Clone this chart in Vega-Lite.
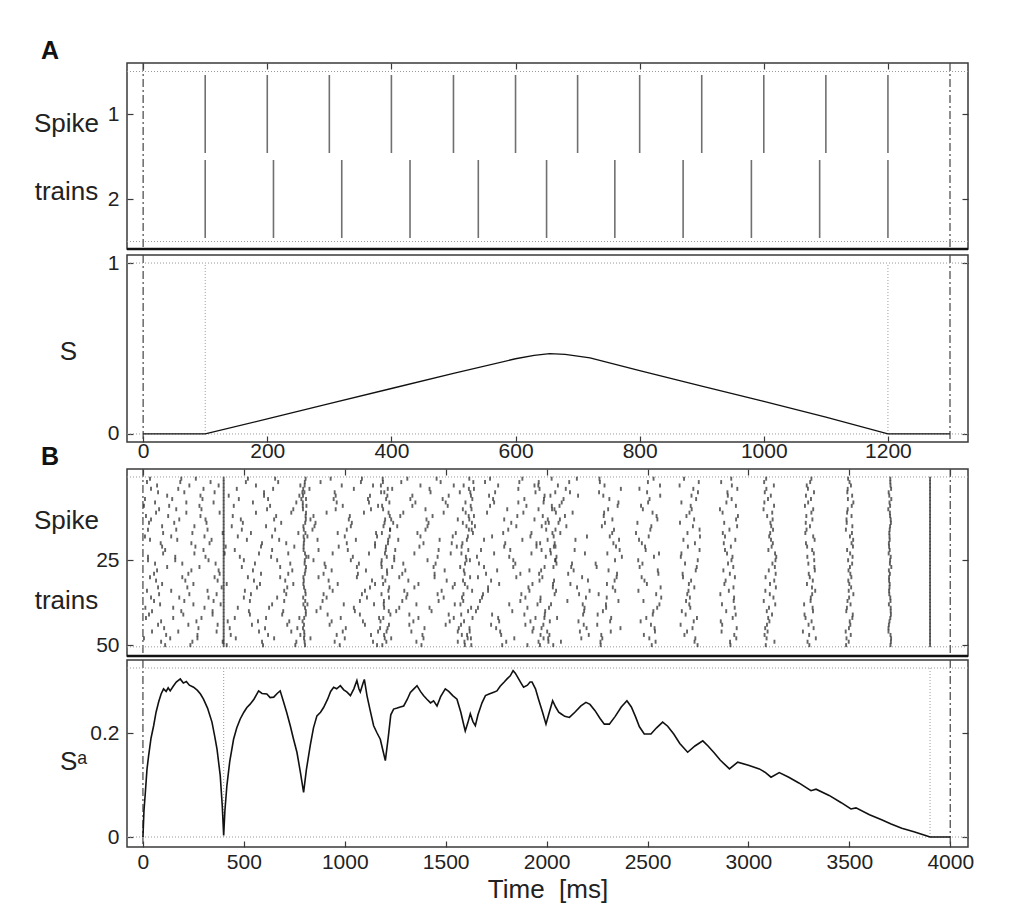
{
"$schema":"https://vega.github.io/schema/vega-lite/v6.json",
"background":"white",
"padding":{"left":32,"top":38,"right":5,"bottom":5},
"config":{
 "font":"Liberation Sans",
 "view":{"stroke":"#3a3a3a","strokeWidth":1.5},
 "axis":{"domain":false,"grid":false,"tickColor":"#3a3a3a","tickWidth":1.2,"tickSize":-6,"labelFontSize":21,"labelColor":"#222","labelFont":"Liberation Sans","titleFont":"Liberation Sans","titleFontSize":26,"titleFontWeight":"normal","titleColor":"#222"},
 "title":{"font":"Liberation Sans","fontSize":25,"fontWeight":"bold","anchor":"start","frame":"group","orient":"top","baseline":"alphabetic","offset":0,"dx":-86,"dy":6,"color":"#111"}
},
"spacing":-18,
"vconcat":[
{"spacing":0,"vconcat":[
 {"width":841,"height":186,"title":"A",
  "resolve":{"axis":{"x":"independent","y":"independent"}},
  "layer":[
   {"data":{"values":[{"t":0},{"t":1300}]},
    "mark":{"type":"rule","strokeDash":[8,3,2,3],"color":"#444","strokeWidth":1.2},
    "encoding":{"x":{"field":"t","type":"quantitative","scale":{"domain":[-26,1329],"nice":false,"zero":false},"axis":{"orient":"top","values":[0,200,400,600,800,1000,1200],"labels":false,"title":null}}}},
   {"data":{"values":[{"r":0.5},{"r":2.5}]},
    "mark":{"type":"rule","strokeDash":[1,2],"color":"#999","strokeWidth":1},
    "encoding":{"y":{"field":"r","type":"quantitative","scale":{"domain":[0.4,2.588],"reverse":true,"nice":false,"zero":false},"axis":{"orient":"right","values":[1,2],"labels":false,"title":null}}}},
   {"data":{"values":[{"r":2.588}]},
    "mark":{"type":"rule","color":"#111","strokeWidth":2.5},
    "encoding":{"y":{"field":"r","type":"quantitative","scale":{"domain":[0.4,2.588],"reverse":true,"nice":false,"zero":false},"axis":null}}},
   {"data":{"values":[
     {"n":1,"t":[100,200,300,400,500,600,700,800,900,1000,1100,1200]},
     {"n":2,"t":[100,210,320,430,540,650,760,870,980,1090,1200]}]},
    "transform":[{"flatten":["t"]}],
    "mark":{"type":"tick","orient":"vertical","size":78,"thickness":1.6,"color":"#333"},
    "encoding":{
     "x":{"field":"t","type":"quantitative","scale":{"domain":[-26,1329],"nice":false,"zero":false},"axis":null},
     "y":{"field":"n","type":"quantitative","scale":{"domain":[0.4,2.588],"reverse":true,"nice":false,"zero":false},
          "axis":{"orient":"left","values":[1,2],"format":"d","labelPadding":14,"title":["Spike","trains"],"titleAngle":0,"titleAlign":"center","titleBaseline":"middle","titleX":-61,"titleY":60,"titleLineHeight":68}}}}
  ]},
 {"width":841,"height":187,
  "resolve":{"axis":{"x":"independent","y":"independent"}},
  "layer":[
   {"data":{"values":[{"t":0},{"t":1300}]},
    "mark":{"type":"rule","strokeDash":[8,3,2,3],"color":"#444","strokeWidth":1.2},
    "encoding":{"x":{"field":"t","type":"quantitative","scale":{"domain":[-26,1329],"nice":false,"zero":false},"axis":{"orient":"bottom","values":[0,200,400,600,800,1000,1200],"format":"d","labelPadding":4,"title":null}}}},
   {"data":{"values":[{"r":0},{"r":1}]},
    "mark":{"type":"rule","strokeDash":[1,2],"color":"#999","strokeWidth":1},
    "encoding":{"y":{"field":"r","type":"quantitative","scale":{"domain":[-0.047,1.047],"nice":false,"zero":false},"axis":{"orient":"right","values":[0,1],"labels":false,"title":null}}}},
   {"data":{"values":[{"t":100,"a":0,"b":1},{"t":1200,"a":0,"b":1}]},
    "mark":{"type":"rule","strokeDash":[1,2],"color":"#999","strokeWidth":1},
    "encoding":{"x":{"field":"t","type":"quantitative","scale":{"domain":[-26,1329],"nice":false,"zero":false},"axis":null},
                "y":{"field":"a","type":"quantitative","scale":{"domain":[-0.047,1.047],"nice":false,"zero":false},"axis":null},
                "y2":{"field":"b"}}},
   {"data":{"values":[{"t":0,"s":0},{"t":100,"s":0},{"t":200,"s":0.088},{"t":300,"s":0.177},{"t":400,"s":0.266},{"t":500,"s":0.355},{"t":600,"s":0.44},{"t":630,"s":0.46},{"t":655,"s":0.47},{"t":680,"s":0.466},{"t":720,"s":0.445},{"t":800,"s":0.37},{"t":900,"s":0.28},{"t":1000,"s":0.19},{"t":1100,"s":0.098},{"t":1200,"s":0},{"t":1300,"s":0}]},
    "mark":{"type":"line","color":"#111","strokeWidth":1.3},
    "encoding":{
     "x":{"field":"t","type":"quantitative","scale":{"domain":[-26,1329],"nice":false,"zero":false},"axis":null},
     "y":{"field":"s","type":"quantitative","scale":{"domain":[-0.047,1.047],"nice":false,"zero":false},
          "axis":{"orient":"left","values":[0,1],"format":"d","labelPadding":14,"title":"S","titleAngle":0,"titleAlign":"center","titleBaseline":"middle","titleX":-59,"titleY":96}}}}
  ]}
]},
{"spacing":0,"vconcat":[
 {"width":841,"height":187,"title":"B",
  "resolve":{"axis":{"x":"independent","y":"independent"}},
  "layer":[
   {"data":{"values":[{"t":0},{"t":4000}]},
    "mark":{"type":"rule","strokeDash":[8,3,2,3],"color":"#444","strokeWidth":1.2},
    "encoding":{"x":{"field":"t","type":"quantitative","scale":{"domain":[-79,4088],"nice":false,"zero":false},"axis":{"orient":"top","values":[0,500,1000,1500,2000,2500,3000,3500,4000],"labels":false,"title":null}}}},
   {"data":{"values":[{"r":0.5},{"r":50.5}]},
    "mark":{"type":"rule","strokeDash":[1,2],"color":"#999","strokeWidth":1},
    "encoding":{"y":{"field":"r","type":"quantitative","scale":{"domain":[-1.85,53.2],"reverse":true,"nice":false,"zero":false},"axis":{"orient":"right","values":[25,50],"labels":false,"title":null}}}},
   {"data":{"values":[{"r":53.2}]},
    "mark":{"type":"rule","color":"#111","strokeWidth":2.5},
    "encoding":{"y":{"field":"r","type":"quantitative","scale":{"domain":[-1.85,53.2],"reverse":true,"nice":false,"zero":false},"axis":null}}},
   {"data":{"values":[
{"n":1,"t":[35,190,262,520,655,930,1085,1310,1455,1720,1880,400,806,1188,1617,2025,2150,2262,2530,2681,2915,3088,3312,3494,3703,3900]},
{"n":20,"t":[88,240,330,590,710,1010,1150,1390,1530,1795,1950,400,797,1214,1583,1968,2040,2331,2472,2735,2878,3121,3285,3511,3696,3900]},
{"n":39,"t":[12,150,305,470,625,880,1045,1270,1420,1660,1905,400,803,1195,1626,2012,2188,2295,2548,2712,2932,3102,3318,3488,3705,3900]},
{"n":8,"t":[60,215,350,545,760,960,1120,1350,1500,1740,1860,400,792,1221,1598,1985,2075,2356,2503,2668,2891,3079,3296,3520,3699,3900]},
{"n":27,"t":[120,280,490,680,905,1060,1235,1440,1690,1835,1990,400,808,1183,1572,2034,2122,2248,2461,2744,2925,3131,3327,3503,3708,3900]},
{"n":46,"t":[45,175,365,575,735,990,1165,1330,1560,1770,1930,400,799,1207,1619,2003,2165,2318,2537,2696,2867,3095,3270,3482,3694,3900]},
{"n":15,"t":[95,255,440,610,850,1030,1260,1410,1645,1850,400,795,1192,1603,1976,2098,2274,2519,2725,2944,3113,3305,3515,3702,3900]},
{"n":34,"t":[20,140,320,505,700,940,1100,1295,1480,1710,1915,400,804,1216,1631,2047,2213,2340,2455,2703,2903,3084,3331,3497,3697,3900]},
{"n":3,"t":[70,230,375,560,780,985,1140,1375,1540,1760,1940,400,801,1179,1589,1959,2056,2287,2562,2659,2918,3126,3289,3508,3704,3900]},
{"n":22,"t":[110,300,455,640,870,1015,1250,1465,1675,1820,1975,400,796,1203,1612,2018,2139,2362,2491,2758,2884,3099,3316,3489,3700,3900]},
{"n":41,"t":[30,200,345,530,690,915,1075,1320,1515,1730,1890,400,807,1226,1577,1991,2181,2253,2526,2689,2937,3117,3278,3517,3706,3900]},
{"n":10,"t":[80,165,290,615,745,955,1130,1400,1585,1805,1960,400,793,1190,1628,2039,2027,2305,2477,2719,2859,3075,3321,3492,3693,3900]},
{"n":29,"t":[55,225,380,585,720,895,1065,1285,1445,1700,1870,400,802,1210,1594,1963,2107,2349,2554,2674,2908,3135,3299,3505,3701,3900]},
{"n":48,"t":[5,135,270,460,650,830,1000,1230,1390,1625,1840,1985,400,798,1198,1609,2008,2172,2276,2509,2737,2940,3090,3334,3486,3707,3900]},
{"n":17,"t":[100,245,395,535,770,965,1155,1360,1550,1785,1925,400,805,1184,1635,2029,2068,2325,2443,2698,2873,3108,3282,3513,3698,3900]},
{"n":36,"t":[40,180,325,500,665,910,1110,1305,1490,1680,1895,400,794,1219,1581,1970,2195,2298,2568,2710,2929,3124,3309,3499,3703,3900]},
{"n":5,"t":[75,205,355,600,790,950,1180,1425,1570,1745,1945,400,800,1196,1622,2043,2116,2260,2498,2750,2896,3081,3325,3490,3695,3900]},
{"n":24,"t":[25,160,310,480,635,820,1040,1245,1460,1655,1815,400,809,1208,1600,1996,2049,2373,2532,2665,2921,3138,3292,3516,3705,3900]},
{"n":43,"t":[90,265,420,570,725,935,1090,1340,1520,1765,1920,400,791,1177,1591,2016,2158,2315,2466,2729,2863,3104,3313,3502,3699,3900]},
{"n":12,"t":[15,125,285,445,660,845,1025,1275,1435,1640,1855,400,806,1223,1614,1981,2091,2283,2545,2693,2948,3093,3287,3511,3702,3900]},
{"n":31,"t":[65,210,370,550,705,920,1135,1315,1505,1725,1965,400,797,1201,1586,2037,2205,2337,2485,2716,2887,3128,3319,3495,3697,3900]},
{"n":50,"t":[110,235,415,595,755,975,1160,1380,1595,1780,1905,400,803,1186,1627,1967,2033,2268,2521,2748,2911,3086,3302,3484,3704,3900]},
{"n":19,"t":[35,170,340,515,675,865,1055,1265,1470,1690,1880,400,799,1215,1605,2005,2143,2359,2458,2678,2935,3112,3328,3519,3700,3900]},
{"n":38,"t":[85,250,385,640,815,995,1145,1355,1545,1815,1955,400,795,1193,1573,2022,2179,2294,2559,2707,2869,3133,3276,3506,3696,3900]},
{"n":7,"t":[10,145,295,475,620,785,945,1115,1325,1485,1735,1890,400,808,1205,1632,1987,2084,2311,2510,2741,2917,3097,3310,3493,3708,3900]},
{"n":26,"t":[60,195,360,555,730,900,1070,1290,1450,1665,1845,400,801,1181,1596,2049,2126,2243,2475,2686,2899,3119,3297,3514,3701,3900]},
{"n":45,"t":[105,275,430,605,765,1005,1175,1395,1565,1750,1935,400,793,1212,1618,1975,2198,2366,2535,2723,2942,3083,3323,3498,3694,3900]},
{"n":14,"t":[30,155,315,495,685,855,1035,1240,1415,1630,1825,1995,400,804,1197,1585,2011,2059,2289,2450,2661,2880,3109,3284,3487,3706,3900]},
{"n":33,"t":[75,220,390,565,715,925,1125,1345,1535,1710,1910,400,798,1220,1608,2031,2151,2328,2565,2732,2926,3136,3315,3509,3699,3900]},
{"n":2,"t":[20,185,335,510,670,880,1080,1280,1475,1695,1865,400,802,1189,1637,1961,2112,2264,2502,2754,2865,3078,3306,3501,3703,3900]},
{"n":21,"t":[95,260,410,585,750,970,1150,1370,1555,1790,1950,400,796,1204,1579,2044,2036,2344,2488,2700,2913,3115,3291,3518,3697,3900]},
{"n":40,"t":[45,190,345,525,695,860,1050,1255,1430,1650,1830,400,807,1218,1611,1993,2186,2279,2529,2670,2890,3091,3320,3485,3705,3900]},
{"n":9,"t":[5,130,280,450,630,810,990,1165,1335,1510,1720,1900,400,792,1185,1624,2026,2064,2352,2468,2714,2938,3127,3280,3512,3702,3900]},
{"n":28,"t":[70,240,375,545,740,935,1105,1300,1495,1755,1915,400,805,1209,1590,1973,2134,2307,2551,2739,2876,3101,3329,3496,3696,3900]},
{"n":47,"t":[115,270,435,620,780,960,1130,1385,1580,1775,1970,400,800,1195,1606,2014,2209,2271,2482,2683,2930,3080,3301,3507,3704,3900]},
{"n":16,"t":[25,165,320,490,655,840,1010,1225,1400,1615,1810,400,797,1224,1629,1998,2044,2334,2514,2758,2906,3122,3288,3483,3700,3900]},
{"n":35,"t":[80,230,365,535,710,895,1085,1310,1460,1685,1875,400,806,1182,1588,2040,2161,2258,2543,2697,2861,3106,3316,3520,3698,3900]},
{"n":4,"t":[40,175,300,465,645,825,1045,1235,1420,1640,1860,400,794,1213,1615,1965,2095,2368,2460,2727,2945,3089,3295,3492,3707,3900]},
{"n":23,"t":[100,255,405,575,720,940,1120,1345,1525,1740,1925,400,803,1199,1578,2021,2190,2301,2557,2668,2894,3132,3324,3504,3695,3900]},
{"n":42,"t":[15,150,290,455,610,775,980,1170,1365,1540,1760,1945,400,799,1191,1633,1989,2052,2320,2494,2745,2922,3098,3283,3515,3703,3900]},
{"n":11,"t":[65,215,380,560,735,910,1095,1290,1490,1705,1885,400,808,1217,1599,2046,2129,2285,2525,2708,2872,3118,3312,3489,3701,3900]},
{"n":30,"t":[35,195,355,520,680,870,1060,1270,1445,1660,1850,400,795,1187,1621,1979,2176,2347,2471,2676,2933,3085,3304,3510,3697,3900]},
{"n":49,"t":[90,245,395,590,760,950,1140,1355,1560,1800,1960,400,801,1206,1593,2009,2071,2267,2540,2733,2909,3129,3293,3497,3706,3900]},
{"n":18,"t":[10,140,305,470,640,815,1000,1160,1375,1535,1730,1920,400,796,1222,1610,2035,2200,2313,2506,2760,2884,3103,3321,3503,3699,3900]},
{"n":37,"t":[55,205,350,530,700,890,1075,1285,1465,1670,1870,400,804,1194,1587,1969,2103,2356,2480,2691,2927,3076,3308,3491,3704,3900]},
{"n":6,"t":[120,285,425,600,775,955,1125,1335,1515,1715,1990,400,793,1211,1625,2019,2156,2281,2563,2718,2898,3111,3285,3514,3698,3900]},
{"n":25,"t":[25,160,325,500,665,845,1030,1245,1410,1620,1835,400,802,1183,1603,2045,2042,2339,2454,2749,2916,3134,3326,3494,3702,3900]},
{"n":44,"t":[75,225,370,540,715,925,1100,1320,1500,1725,1895,400,798,1219,1576,1984,2184,2251,2517,2664,2870,3092,3298,3505,3696,3900]},
{"n":13,"t":[40,180,310,485,650,830,1020,1230,1405,1560,1790,1940,400,807,1200,1617,2006,2066,2326,2549,2731,2939,3120,3317,3486,3705,3900]},
{"n":32,"t":[95,250,415,580,745,965,1150,1365,1545,1765,1930,400,795,1190,1595,2032,2118,2299,2497,2705,2881,3107,3290,3500,3700,3900]}
    ]},
    "transform":[{"flatten":["t"]}],
    "mark":{"type":"tick","orient":"vertical","size":4,"thickness":1.9,"color":"#222"},
    "encoding":{
     "x":{"field":"t","type":"quantitative","scale":{"domain":[-79,4088],"nice":false,"zero":false},"axis":null},
     "y":{"field":"n","type":"quantitative","scale":{"domain":[-1.85,53.2],"reverse":true,"nice":false,"zero":false},
          "axis":{"orient":"left","values":[25,50],"format":"d","labelPadding":14,"title":["Spike","trains"],"titleAngle":0,"titleAlign":"center","titleBaseline":"middle","titleX":-61,"titleY":51,"titleLineHeight":80}}}}
  ]},
 {"width":841,"height":187,
  "resolve":{"axis":{"x":"independent","y":"independent"}},
  "layer":[
   {"data":{"values":[{"t":0},{"t":4000}]},
    "mark":{"type":"rule","strokeDash":[8,3,2,3],"color":"#444","strokeWidth":1.2},
    "encoding":{"x":{"field":"t","type":"quantitative","scale":{"domain":[-79,4088],"nice":false,"zero":false},"axis":{"orient":"bottom","values":[0,500,1000,1500,2000,2500,3000,3500,4000],"format":"d","labelPadding":10,"title":"Time\u00a0\u00a0[ms]","titlePadding":4}}}},
   {"data":{"values":[{"r":0},{"r":0.325}]},
    "mark":{"type":"rule","strokeDash":[1,2],"color":"#999","strokeWidth":1},
    "encoding":{"y":{"field":"r","type":"quantitative","scale":{"domain":[-0.0192,0.3404],"nice":false,"zero":false},"axis":{"orient":"right","values":[0,0.2],"labels":false,"title":null}}}},
   {"data":{"values":[{"t":400,"a":0,"b":0.325},{"t":3900,"a":0,"b":0.325}]},
    "mark":{"type":"rule","strokeDash":[1,2],"color":"#999","strokeWidth":1},
    "encoding":{"x":{"field":"t","type":"quantitative","scale":{"domain":[-79,4088],"nice":false,"zero":false},"axis":null},
                "y":{"field":"a","type":"quantitative","scale":{"domain":[-0.0192,0.3404],"nice":false,"zero":false},"axis":null},
                "y2":{"field":"b"}}},
   {"data":{"values":[
{"t":0,"s":0.0},{"t":5,"s":0.05},{"t":12,"s":0.086},{"t":20,"s":0.13},{"t":28,"s":0.156},{"t":40,"s":0.19},{"t":53,"s":0.214},{"t":65,"s":0.24},{"t":78,"s":0.26},{"t":90,"s":0.275},{"t":102,"s":0.285},{"t":115,"s":0.28},{"t":125,"s":0.287},{"t":135,"s":0.281},{"t":150,"s":0.29},{"t":165,"s":0.298},{"t":185,"s":0.304},{"t":200,"s":0.296},{"t":215,"s":0.299},{"t":230,"s":0.292},{"t":251,"s":0.288},{"t":270,"s":0.282},{"t":285,"s":0.275},{"t":300,"s":0.265},{"t":320,"s":0.248},{"t":342,"s":0.221},{"t":355,"s":0.195},{"t":367,"s":0.169},{"t":383,"s":0.118},{"t":393,"s":0.06},{"t":400,"s":0.003},{"t":406,"s":0.05},{"t":416,"s":0.099},{"t":430,"s":0.145},{"t":449,"s":0.188},{"t":465,"s":0.21},{"t":482,"s":0.227},{"t":500,"s":0.24},{"t":515,"s":0.249},{"t":530,"s":0.255},{"t":550,"s":0.265},{"t":573,"s":0.281},{"t":590,"s":0.276},{"t":614,"s":0.275},{"t":630,"s":0.268},{"t":648,"s":0.269},{"t":665,"s":0.276},{"t":680,"s":0.281},{"t":695,"s":0.262},{"t":712,"s":0.24},{"t":730,"s":0.214},{"t":745,"s":0.19},{"t":763,"s":0.163},{"t":780,"s":0.125},{"t":796,"s":0.086},{"t":810,"s":0.13},{"t":829,"s":0.176},{"t":845,"s":0.21},{"t":862,"s":0.233},{"t":880,"s":0.24},{"t":895,"s":0.249},{"t":915,"s":0.265},{"t":930,"s":0.28},{"t":945,"s":0.288},{"t":960,"s":0.285},{"t":978,"s":0.291},{"t":995,"s":0.283},{"t":1010,"s":0.279},{"t":1028,"s":0.272},{"t":1045,"s":0.285},{"t":1060,"s":0.301},{"t":1070,"s":0.285},{"t":1077,"s":0.279},{"t":1090,"s":0.295},{"t":1097,"s":0.303},{"t":1110,"s":0.272},{"t":1125,"s":0.245},{"t":1143,"s":0.214},{"t":1160,"s":0.2},{"t":1176,"s":0.188},{"t":1190,"s":0.165},{"t":1201,"s":0.147},{"t":1215,"s":0.19},{"t":1228,"s":0.235},{"t":1242,"s":0.246},{"t":1260,"s":0.248},{"t":1275,"s":0.25},{"t":1292,"s":0.252},{"t":1310,"s":0.265},{"t":1325,"s":0.278},{"t":1340,"s":0.284},{"t":1358,"s":0.291},{"t":1375,"s":0.28},{"t":1390,"s":0.272},{"t":1407,"s":0.265},{"t":1425,"s":0.258},{"t":1440,"s":0.262},{"t":1457,"s":0.252},{"t":1475,"s":0.27},{"t":1498,"s":0.285},{"t":1515,"s":0.28},{"t":1535,"s":0.272},{"t":1556,"s":0.265},{"t":1575,"s":0.24},{"t":1590,"s":0.215},{"t":1597,"s":0.204},{"t":1610,"s":0.22},{"t":1622,"s":0.237},{"t":1635,"s":0.222},{"t":1647,"s":0.214},{"t":1660,"s":0.235},{"t":1680,"s":0.258},{"t":1697,"s":0.272},{"t":1715,"s":0.275},{"t":1735,"s":0.278},{"t":1754,"s":0.281},{"t":1770,"s":0.29},{"t":1790,"s":0.298},{"t":1804,"s":0.304},{"t":1820,"s":0.31},{"t":1834,"s":0.32},{"t":1845,"s":0.315},{"t":1860,"s":0.305},{"t":1875,"s":0.295},{"t":1886,"s":0.288},{"t":1905,"s":0.292},{"t":1918,"s":0.298},{"t":1928,"s":0.298},{"t":1945,"s":0.285},{"t":1960,"s":0.265},{"t":1980,"s":0.24},{"t":1997,"s":0.217},{"t":2010,"s":0.235},{"t":2030,"s":0.262},{"t":2045,"s":0.25},{"t":2060,"s":0.24},{"t":2071,"s":0.237},{"t":2090,"s":0.232},{"t":2113,"s":0.23},{"t":2140,"s":0.24},{"t":2170,"s":0.252},{"t":2195,"s":0.259},{"t":2215,"s":0.255},{"t":2240,"s":0.243},{"t":2265,"s":0.228},{"t":2286,"s":0.217},{"t":2311,"s":0.217},{"t":2340,"s":0.232},{"t":2370,"s":0.25},{"t":2398,"s":0.262},{"t":2420,"s":0.25},{"t":2440,"s":0.232},{"t":2460,"s":0.212},{"t":2484,"s":0.198},{"t":2517,"s":0.198},{"t":2545,"s":0.21},{"t":2575,"s":0.221},{"t":2600,"s":0.213},{"t":2630,"s":0.198},{"t":2660,"s":0.18},{"t":2699,"s":0.163},{"t":2735,"s":0.175},{"t":2774,"s":0.185},{"t":2800,"s":0.175},{"t":2830,"s":0.162},{"t":2860,"s":0.148},{"t":2906,"s":0.131},{"t":2947,"s":0.144},{"t":3000,"s":0.138},{"t":3054,"s":0.131},{"t":3085,"s":0.124},{"t":3112,"s":0.115},{"t":3153,"s":0.124},{"t":3200,"s":0.115},{"t":3250,"s":0.104},{"t":3310,"s":0.089},{"t":3335,"s":0.092},{"t":3400,"s":0.08},{"t":3460,"s":0.066},{"t":3508,"s":0.054},{"t":3533,"s":0.056},{"t":3600,"s":0.043},{"t":3660,"s":0.033},{"t":3707,"s":0.025},{"t":3760,"s":0.017},{"t":3820,"s":0.01},{"t":3870,"s":0.004},{"t":3900,"s":0.0},{"t":4000,"s":0.0}
    ]},
    "mark":{"type":"line","color":"#111","strokeWidth":1.6},
    "encoding":{
     "x":{"field":"t","type":"quantitative","scale":{"domain":[-79,4088],"nice":false,"zero":false},"axis":null},
     "y":{"field":"s","type":"quantitative","scale":{"domain":[-0.0192,0.3404],"nice":false,"zero":false},
          "axis":{"orient":"left","values":[0,0.2],"format":"~g","labelPadding":14,"title":"Sᵃ","titleAngle":0,"titleAlign":"center","titleBaseline":"middle","titleX":-54,"titleY":101}}}}
  ]}
]}
]
}
